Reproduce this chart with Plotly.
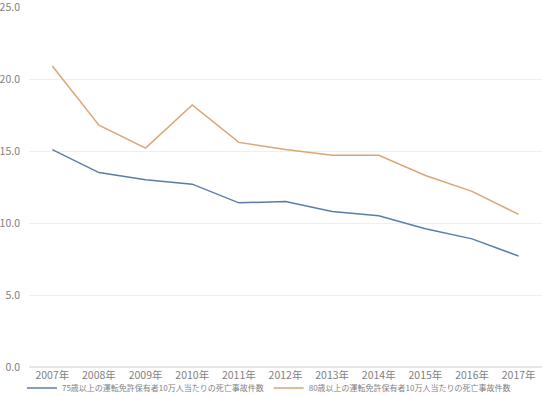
import plotly.graph_objects as go

years = ["2007年", "2008年", "2009年", "2010年", "2011年", "2012年", "2013年", "2014年", "2015年", "2016年", "2017年"]
s75 = [15.1, 13.5, 13.0, 12.7, 11.4, 11.5, 10.8, 10.5, 9.6, 8.9, 7.7]
s80 = [20.9, 16.8, 15.2, 18.2, 15.6, 15.1, 14.7, 14.7, 13.3, 12.2, 10.6]
name75 = "75歳以上の運転免許保有者10万人当たりの死亡事故件数"
name80 = "80歳以上の運転免許保有者10万人当たりの死亡事故件数"

font = "Noto Sans CJK JP"
fig = go.Figure()
fig.add_trace(go.Scatter(x=years, y=s75, mode="lines", name=name75,
                         line=dict(color="#5b7cab", width=1.5)))
fig.add_trace(go.Scatter(x=years, y=s80, mode="lines", name=name80,
                         line=dict(color="#d9a676", width=1.5)))

fig.update_layout(
    width=550, height=396,
    margin=dict(l=29, r=8, t=7, b=29, autoexpand=False),
    paper_bgcolor="white", plot_bgcolor="white",
    font=dict(family=font, color="#7f7f7f", size=10),
    xaxis=dict(type="category", range=[-0.5, 10.5], showgrid=False, showline=False,
               ticks="", tickfont=dict(size=10.5, color="#7f7f7f"),
               automargin=False),
    yaxis=dict(range=[0, 25.001], dtick=5, tickformat=".1f", showgrid=True,
               gridcolor="#efefef", gridwidth=1, zeroline=True, zerolinecolor="#e6e6e6",
               showline=False, ticks="", ticklabelstandoff=8, automargin=False,
               ticklabeloverflow="allow",
               tickfont=dict(size=10.5, color="#7f7f7f")),
    legend=dict(x=0.489, xref="container", y=1 - 388 / 396, yref="container",
                xanchor="center", yanchor="middle", orientation="h",
                font=dict(size=8, color="#7f7f7f"), itemwidth=30,
                bgcolor="rgba(0,0,0,0)"),
    showlegend=True,
)

fig.write_html("out.html", include_plotlyjs=True, config={"displayModeBar": False},
               post_script="document.body.style.margin='0';document.body.style.overflow='hidden';")
